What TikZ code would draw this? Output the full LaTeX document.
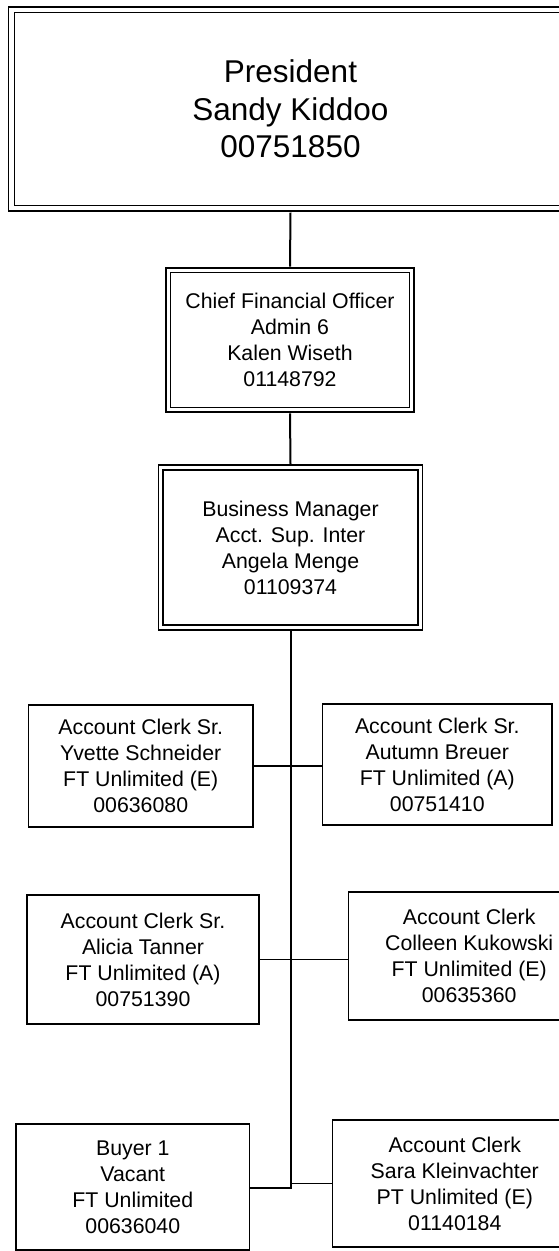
\documentclass[tikz,border=0pt]{standalone}
\usepackage{fontspec}
\setmainfont{Liberation Sans}
\begin{document}
\begin{tikzpicture}[x=1pt,y=-1pt,
  box/.style={draw=black, line width=1.6pt, rectangle, inner sep=0pt, align=center,
    font=\fontsize{21.3}{26}\selectfont},
  dbox/.style={draw=black, line width=1.4pt, double=white, double distance=3.4pt,
    rectangle, inner sep=0pt, align=center, font=\fontsize{21.3}{26}\selectfont},
  link/.style={line width=1.7pt},
  trunk/.style={line width=2pt}]
\useasboundingbox (0,0) rectangle (559,1251);
% top three
\node[dbox, line width=1.5pt, double distance=4.3pt, minimum width=558.2pt, minimum height=198.5pt,
  font=\fontsize{31.5}{37.5}\selectfont] (pres) at (290.5,109) {President\\Sandy Kiddoo\\00751850};
\node[dbox, minimum width=243.4pt, minimum height=139.3pt] (cfo) at (290,340)
  {Chief Financial Officer\\Admin 6\\Kalen Wiseth\\01148792};
\node[dbox, minimum width=259.5pt, minimum height=160pt] (bm) at (290.5,547.5)
  {Business Manager\\Acct. Sup. Inter\\Angela Menge\\01109374};
% clerks
\node[box, minimum width=224.5pt, minimum height=122pt] (l1) at (140.75,766)
  {Account Clerk Sr.\\Yvette Schneider\\FT Unlimited (E)\\00636080};
\node[box, minimum width=229.4pt, minimum height=121pt] (r1) at (437.3,764.5)
  {Account Clerk Sr.\\Autumn Breuer\\FT Unlimited (A)\\00751410};
\node[box, minimum width=232.5pt, minimum height=129pt] (l2) at (143,959.5)
  {Account Clerk Sr.\\Alicia Tanner\\FT Unlimited (A)\\00751390};
\node[box, minimum width=241.7pt, minimum height=128pt] (r2) at (469.2,956)
  {Account Clerk\\Colleen Kukowski\\FT Unlimited (E)\\00635360};
\node[box, minimum width=233.6pt, minimum height=126pt] (l3) at (132.8,1187)
  {Buyer 1\\Vacant\\FT Unlimited\\00636040};
\node[box, minimum width=244.4pt, minimum height=126.7pt] (r3) at (454.8,1183.4)
  {Account Clerk\\Sara Kleinvachter\\PT Unlimited (E)\\01140184};
\coordinate (tend) at (290.5,1188);
% connectors
\draw[trunk] ([yshift=-3.6pt]pres.south) -- ([yshift=3pt]cfo.north);
\draw[trunk] ([yshift=-3pt]cfo.south) -- ([yshift=3pt]bm.north);
\draw[trunk] ([yshift=-3pt]bm.south) -- (tend) -- (tend -| l3.east);
\draw[link] (l1.east) -- (l1.east -| r1.west);
\draw[link] (l2.east) -- (l2.east -| r2.west);
\draw[link] (tend |- r3.west) -- (r3.west);
\end{tikzpicture}
\end{document}
